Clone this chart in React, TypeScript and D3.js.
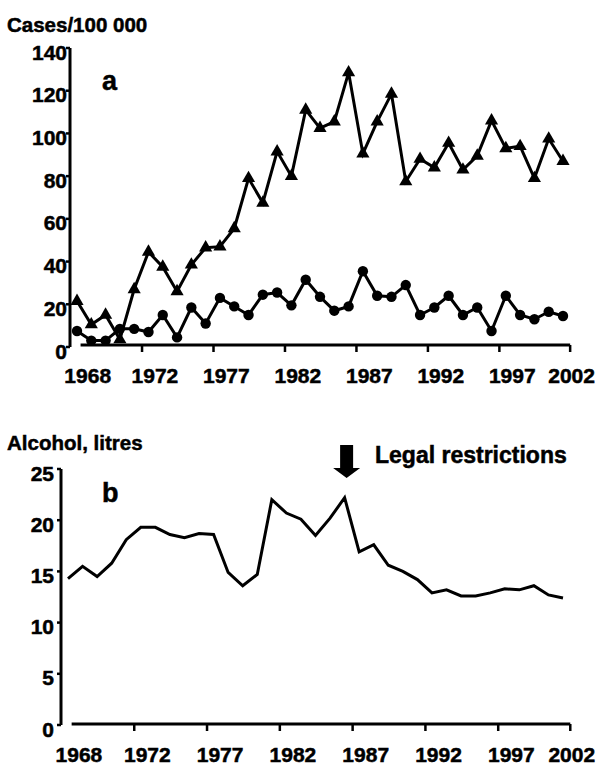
import * as d3 from 'd3';

const years = [
  1968, 1969, 1970, 1971, 1972, 1973, 1974, 1975, 1976, 1977, 1978, 1979,
  1980, 1981, 1982, 1983, 1984, 1985, 1986, 1987, 1988, 1989, 1990, 1991,
  1992, 1993, 1994, 1995, 1996, 1997, 1998, 1999, 2000, 2001, 2002,
];

// panel a, cases per 100 000 (triangles / circles)
const casesTriangle = [
  21.5, 10.5, 15, 3.5, 27, 44.5, 37.5, 26, 38.5, 46.5, 47, 55.5, 79, 67.5, 91.5,
  80, 111, 102.5, 105.5, 128.5, 90.5, 105.5, 118.5, 77.5, 88, 84, 95.5, 83, 89.5,
  106, 93, 94, 79, 97.5, 87,
];
const casesCircle = [
  7.5, 3, 3, 8.5, 8.5, 7, 15, 4.5, 18.5, 11, 23, 19, 15, 24.5, 25.5, 19.5, 31.5,
  23.5, 17, 19, 35.5, 24, 23.5, 29, 15, 18.5, 24, 15, 18.5, 7.5, 24, 15, 13, 16.5,
  14.5,
];

// panel b, alcohol litres
const alcohol = [
  14.3, 15.5, 14.5, 15.8, 18.1, 19.3, 19.3, 18.6, 18.3, 18.7, 18.6, 14.9, 13.6,
  14.7, 22.0, 20.7, 20.1, 18.5, 20.2, 22.2, 16.9, 17.6, 15.6, 15.0, 14.2, 12.9,
  13.2, 12.6, 12.6, 12.9, 13.3, 13.2, 13.6, 12.7, 12.4,
];

const tickYears = [1972, 1977, 1982, 1987, 1992, 1997];
const xLabels = ['1968', '1972', '1977', '1982', '1987', '1992', '1997', '2002'];
const xLabelAt = [1968.75, 1973.45, 1978.45, 1983.45, 1988.45, 1993.45, 1998.45, 2002.6];
const topTicks = [0, 20, 40, 60, 80, 100, 120, 140];
const botTicks = [0, 5, 10, 15, 20, 25];
const legalYear = 1987;

const FONT = "'Liberation Sans', Arial, sans-serif";
const TICK_OFF = 0.55;
const AXIS_START = 1968.25;
const AXIS_END = 2002.5;
// thin outline to get the heavier look of the original lettering
const heavy = { fontWeight: 'bold' as const, stroke: '#000', strokeWidth: 0.5 };

interface XAxisProps {
  x: d3.ScaleLinear<number, number>;
  y: number;
  labelY: number;
}

function XAxis({ x, y, labelY }: XAxisProps) {
  return (
    <g>
      <line x1={x(AXIS_START)} x2={x(AXIS_END)} y1={y} y2={y} stroke="#000" strokeWidth={3} />
      {[...tickYears.map((t) => t + TICK_OFF), AXIS_END].map((t) => (
        <line key={t} x1={x(t)} x2={x(t)} y1={y} y2={y + 7} stroke="#000" strokeWidth={2.5} />
      ))}
      {xLabels.map((l, i) => (
        <text key={l} x={x(xLabelAt[i])} y={labelY} textAnchor="middle" fontSize={21} {...heavy}>
          {l}
        </text>
      ))}
    </g>
  );
}

interface YAxisProps {
  y: d3.ScaleLinear<number, number>;
  x: number;
  ticks: number[];
  labelRight: number;
}

function YAxis({ y, x, ticks, labelRight }: YAxisProps) {
  const [lo, hi] = y.domain();
  return (
    <g>
      <line x1={x} x2={x} y1={y(hi)} y2={y(lo)} stroke="#000" strokeWidth={3} />
      {ticks.map((t) => (
        <g key={t}>
          <line x1={x - 4} x2={x} y1={y(t)} y2={y(t)} stroke="#000" strokeWidth={2.5} />
          <text x={labelRight} y={y(t) + 11.5} textAnchor="end" fontSize={21} {...heavy}>
            {t}
          </text>
        </g>
      ))}
    </g>
  );
}

export default function App() {
  const xTop = d3.scaleLinear().domain([1968, 2002]).range([77, 563]);
  const yTop = d3.scaleLinear().domain([0, 140]).range([347, 48]);
  const xBot = d3.scaleLinear().domain([1968, 2002]).range([68, 563]);
  const yBot = d3.scaleLinear().domain([0, 25]).range([725, 469]);

  const lineTop = (vals: number[]) =>
    d3.line<number>().x((_, i) => xTop(years[i])).y((d) => yTop(d))(vals) ?? '';
  const lineBot =
    d3.line<number>().x((_, i) => xBot(years[i])).y((d) => yBot(d))(alcohol) ?? '';

  const tri = d3.symbol(d3.symbolTriangle, 75)() ?? '';
  const circ = d3.symbol(d3.symbolCircle, 85)() ?? '';

  const ax = xBot(legalYear) + 2;

  return (
    <div style={{ position: 'absolute', left: 0, top: 0 }}>
      <svg width={600} height={780} style={{ fontFamily: FONT, display: 'block' }}>
        <rect width={600} height={780} fill="#fff" />

        {/* panel a */}
        <text x={7} y={32} fontSize={20.5} {...heavy}>Cases/100 000</text>
        <text x={102} y={90} fontSize={27} {...heavy}>a</text>
        <YAxis y={yTop} x={70} ticks={topTicks} labelRight={67} />
        <XAxis x={xTop} y={345} labelY={383} />

        <path d={lineTop(casesTriangle)} fill="none" stroke="#000" strokeWidth={3} />
        <path d={lineTop(casesCircle)} fill="none" stroke="#000" strokeWidth={3} />
        {casesTriangle.map((v, i) => (
          <path key={`t${i}`} d={tri} transform={`translate(${xTop(years[i])},${yTop(v)})`} fill="#000" />
        ))}
        {casesCircle.map((v, i) => (
          <path key={`c${i}`} d={circ} transform={`translate(${xTop(years[i])},${yTop(v)})`} fill="#000" />
        ))}

        {/* panel b */}
        <text x={7} y={450} fontSize={20.5} {...heavy}>Alcohol, litres</text>
        <text x={102} y={502} fontSize={27} {...heavy}>b</text>
        <YAxis y={yBot} x={61} ticks={botTicks} labelRight={54} />
        <XAxis x={xBot} y={724} labelY={762} />
        <path d={lineBot} fill="none" stroke="#000" strokeWidth={3} />

        <path
          d={`M${ax - 6.5},445 L${ax + 6.5},445 L${ax + 6.5},468 L${ax + 13.5},468 L${ax},478 L${ax - 13.5},468 L${ax - 6.5},468 Z`}
          fill="#000"
        />
        <text x={375} y={463} fontSize={23} {...heavy}>Legal restrictions</text>
      </svg>
    </div>
  );
}
